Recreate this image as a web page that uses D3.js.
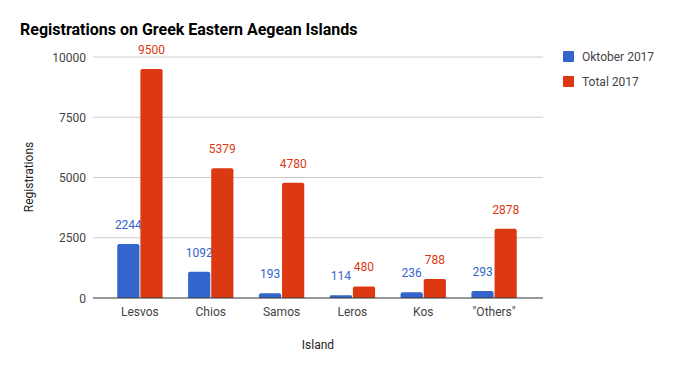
<!DOCTYPE html>
<html>
<head>
<meta charset="utf-8">
<script src="https://cdn.jsdelivr.net/npm/d3@7"></script>
<style>
  body { margin: 0; background: #fff; }
  text { font-family: Roboto, Arial, sans-serif; }
</style>
</head>
<body>
<div id="chart"></div>
<script>
// data
var islands = ['Lesvos', 'Chios', 'Samos', 'Leros', 'Kos', '"Others"'];
var october = [2244, 1092, 193, 114, 236, 293];
var total = [9500, 5379, 4780, 480, 788, 2878];
var seriesNames = ['Oktober 2017', 'Total 2017'];
var colors = ['#3366cc', '#dc3912'];
var yTicks = [0, 2500, 5000, 7500, 10000];

var width = 674, height = 371;
var gridLeft = 93, gridRight = 543;

var svg = d3.select('#chart').append('svg')
  .attr('width', width)
  .attr('height', height);

var y = d3.scaleLinear().domain([0, 10000]).range([298, 57]);

var x = d3.scaleBand()
  .domain(islands)
  .range([104.5, 529.5])
  .paddingInner(0.36)
  .paddingOuter(0.18);

var xs = d3.scaleBand()
  .domain([0, 1])
  .range([0, x.bandwidth()])
  .paddingInner(0.04);

// title
svg.append('text')
  .attr('x', 20).attr('y', 35)
  .attr('font-size', 16).attr('font-weight', 'bold')
  .attr('fill', '#000')
  .text('Registrations on Greek Eastern Aegean Islands');

// gridlines + y tick labels
var yAxis = svg.append('g');
yTicks.forEach(function(t) {
  if (t !== 0) {
    yAxis.append('line')
      .attr('x1', gridLeft).attr('x2', gridRight)
      .attr('y1', y(t)).attr('y2', y(t))
      .attr('stroke', '#cccccc').attr('stroke-width', 1);
  }
  yAxis.append('text')
    .attr('x', 86).attr('y', y(t) + 4.5)
    .attr('text-anchor', 'end')
    .attr('font-size', 12).attr('fill', '#444')
    .text(t);
});

// bars
var groups = svg.selectAll('g.grp')
  .data(islands)
  .enter().append('g')
  .attr('class', 'grp')
  .attr('transform', function(d) { return 'translate(' + x(d) + ',0)'; });

[october, total].forEach(function(series, si) {
  groups.append('path')
    .attr('fill', colors[si])
    .attr('d', function(d, i) {
      var x0 = xs(si), w = xs.bandwidth();
      var top = y(series[i]), bot = y(0), r = Math.min(2, (bot - top) / 2);
      return 'M' + x0 + ',' + bot +
        'V' + (top + r) +
        'Q' + x0 + ',' + top + ' ' + (x0 + r) + ',' + top +
        'H' + (x0 + w - r) +
        'Q' + (x0 + w) + ',' + top + ' ' + (x0 + w) + ',' + (top + r) +
        'V' + bot + 'Z';
    });

  groups.append('text')
    .attr('x', xs(si) + xs.bandwidth() / 2)
    .attr('y', function(d, i) { return y(series[i]) - 15; })
    .attr('text-anchor', 'middle')
    .attr('font-size', 12)
    .attr('fill', colors[si])
    .attr('stroke', '#fff').attr('stroke-width', 3).attr('paint-order', 'stroke')
    .text(function(d, i) { return series[i]; });
});

// baseline
svg.append('line')
  .attr('x1', gridLeft).attr('x2', gridRight)
  .attr('y1', y(0)).attr('y2', y(0))
  .attr('stroke', '#333').attr('stroke-width', 1);

// x labels
groups.append('text')
  .attr('x', x.bandwidth() / 2)
  .attr('y', 316)
  .attr('text-anchor', 'middle')
  .attr('font-size', 12).attr('fill', '#444')
  .text(function(d) { return d; });

// axis titles
svg.append('text')
  .attr('x', 318).attr('y', 349)
  .attr('text-anchor', 'middle')
  .attr('font-size', 12).attr('fill', '#222')
  .text('Island');

svg.append('text')
  .attr('transform', 'translate(33,177) rotate(-90)')
  .attr('text-anchor', 'middle')
  .attr('font-size', 12).attr('fill', '#222')
  .text('Registrations');

// legend
var legend = svg.selectAll('g.leg')
  .data(seriesNames)
  .enter().append('g')
  .attr('class', 'leg')
  .attr('transform', function(d, i) { return 'translate(563,' + (51 + i * 25) + ')'; });

legend.append('rect')
  .attr('width', 11).attr('height', 11).attr('rx', 1)
  .attr('fill', function(d, i) { return colors[i]; });

legend.append('text')
  .attr('x', 19).attr('y', 10)
  .attr('font-size', 12).attr('fill', '#444')
  .text(function(d) { return d; });
</script>
</body>
</html>
